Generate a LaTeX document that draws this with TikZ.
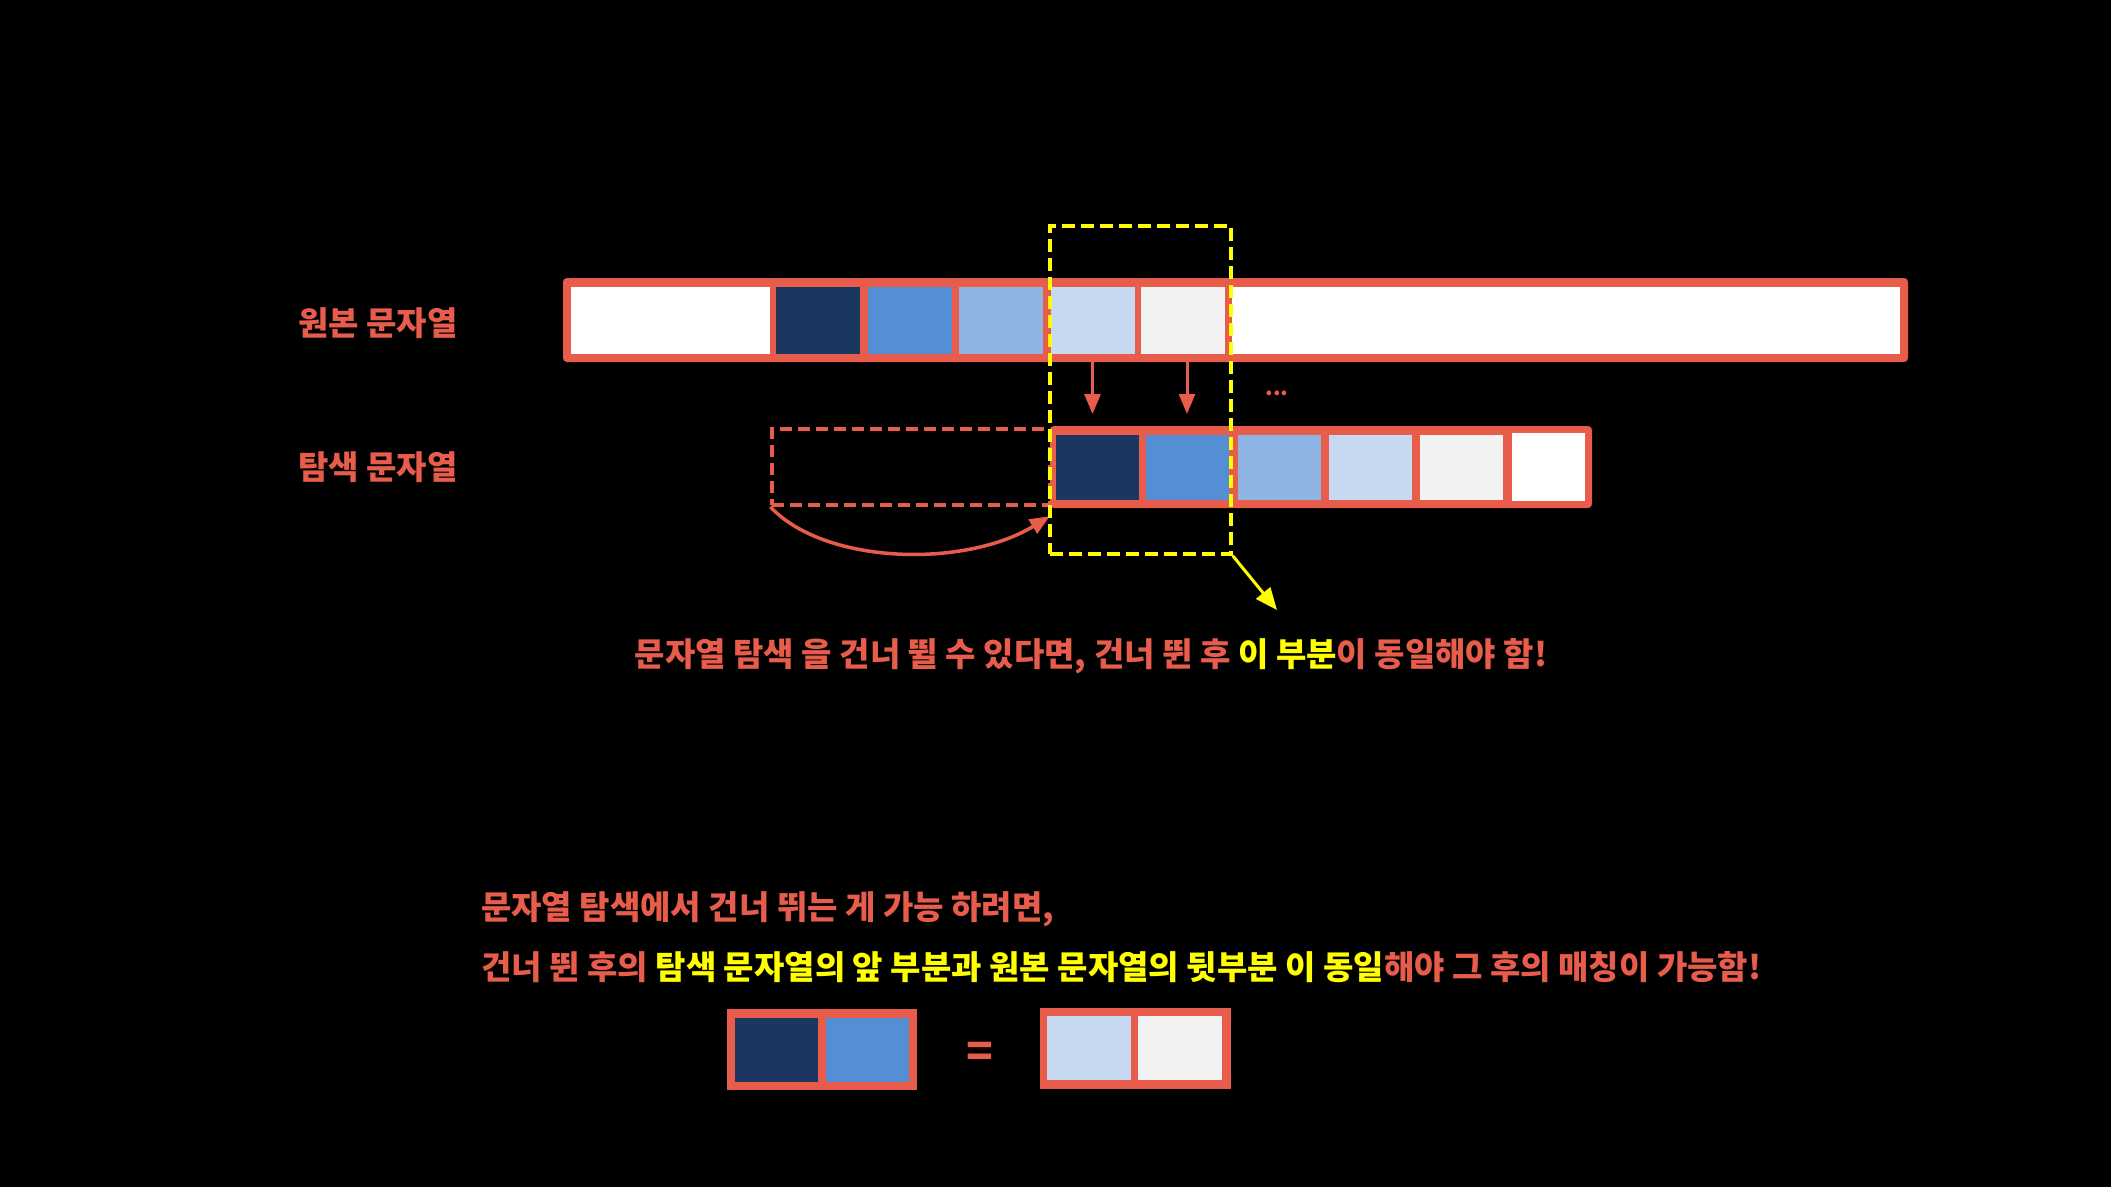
\documentclass[tikz,border=0pt]{standalone}
\usepackage{fontspec}
\setmainfont{Noto Sans CJK KR}
\usetikzlibrary{arrows.meta}
\definecolor{org}{HTML}{E75C4A}
\definecolor{navy}{HTML}{1B375F}
\definecolor{blu}{HTML}{558ED5}
\definecolor{lblu}{HTML}{8EB4E3}
\definecolor{vlblu}{HTML}{C6D9F1}
\definecolor{gry}{HTML}{F2F2F2}
\definecolor{ylw}{HTML}{FFFF00}
\begin{document}
\begin{tikzpicture}[x=1pt,y=-1pt,
  bar/.style={rectangle, fill=org, rounded corners=4pt, inner sep=0pt},
  cell/.style={rectangle, inner sep=0pt, minimum height=67pt, minimum width=84pt},
  scell/.style={rectangle, inner sep=0pt, minimum height=65pt, minimum width=83pt},
  bcell/.style={rectangle, inner sep=0pt, minimum height=64pt, minimum width=83pt},
  lbl/.style={text=org, font=\fontsize{33}{39}\selectfont\bfseries, inner sep=0pt},
  redarr/.style={draw=org, line width=3pt, -{Triangle[length=20pt,width=16pt]}},
  ghost/.style={draw=org, line width=3.5pt, dash pattern=on 12pt off 6pt, rectangle, inner sep=0pt},
  yelbox/.style={draw=ylw, line width=3.5pt, dash pattern=on 13pt off 6pt, rectangle, inner sep=0pt},
  yarr/.style={draw=ylw, line width=3pt, -{Triangle[length=22pt,width=18pt]}},
  curvarr/.style={draw=org, line width=3.5pt, -{Triangle[length=20pt,width=16pt]}}
]
\useasboundingbox (0,0) rectangle (2111,1187);
\fill[black] (0,0) rectangle (2111,1187);

% labels
\node[lbl, anchor=west] (lblA) at (298,323) {원본 문자열};
\node[lbl, anchor=west] (lblB) at (298,467) {탐색 문자열};

% top bar (original string)
\node[bar, minimum width=1345pt, minimum height=84pt] (topbar) at (1235.5,320) {};
\node[cell, fill=white, minimum width=199pt] (tw1) at (670.5,320.5) {};
\node[cell, fill=navy] (t1) at (818,320.5) {};
\node[cell, fill=blu] (t2) at (909.5,320.5) {};
\node[cell, fill=lblu] (t3) at (1001,320.5) {};
\node[cell, fill=vlblu] (t4) at (1092.5,320.5) {};
\node[cell, fill=gry] (t5) at (1183,320.5) {};
\node[cell, fill=white, minimum width=668pt] (tw2) at (1566,320.5) {};

% search bar
\node[bar, minimum width=542pt, minimum height=82pt] (sbar) at (1321,467) {};
\node[scell, fill=navy] (s1) at (1097,467.5) {};
\node[scell, fill=blu] (s2) at (1187.5,467.5) {};
\node[scell, fill=lblu] (s3) at (1279,467.5) {};
\node[scell, fill=vlblu] (s4) at (1370.5,467.5) {};
\node[scell, fill=gry] (s5) at (1461.5,467.5) {};
\node[scell, fill=white, minimum width=73pt, minimum height=68pt] (s6) at (1548.5,467) {};

% ghost (skipped part)
\node[ghost, minimum width=278pt, minimum height=76pt] (ghost) at (911,467) {};
\draw[curvarr] (ghost.south west) .. controls (825,565) and (965,568) .. ([yshift=-8pt]sbar.south west);

% red arrows
\coordinate (arrlvl) at (0,414);
\draw[redarr] (t4.south |- topbar.south) -- (t4.south |- arrlvl);
\draw[redarr] ([xshift=4pt]t5.south |- topbar.south) -- ([xshift=4pt]t5.south |- arrlvl);
\node[text=org, font=\fontsize{22}{26}\selectfont\bfseries, inner sep=0pt] (dots) at (1277,393) {...};

% yellow box
\node[yelbox, minimum width=181pt, minimum height=328pt] (yel) at (1140.5,390) {};
\coordinate (ytip) at (1277,610);
\draw[yarr] (yel.south east) -- (ytip);

% middle text
\node[lbl] (mid) at (1091,656) {문자열 탐색 을 건너 뛸 수 있다면, 건너 뛴 후 \textcolor{ylw}{이 부분}이 동일해야 함!};

% bottom text
\node[lbl, anchor=west] (line1) at (481,909) {문자열 탐색에서 건너 뛰는 게 가능 하려면,};
\node[lbl, anchor=west] (line2) at (481,967) {건너 뛴 후의 \textcolor{ylw}{탐색 문자열의 앞 부분과 원본 문자열의 뒷부분 이 동일}해야 그 후의 매칭이 가능함!};

% bottom boxes
\node[bar, rounded corners=0pt, minimum width=190pt, minimum height=81pt] (lbox) at (822,1049.5) {};
\node[bcell, fill=navy] (b1) at (776.5,1050) {};
\node[bcell, fill=blu] (b2) at (867,1050) {};
\node[text=org, font=\fontsize{44}{50}\selectfont\bfseries, inner sep=0pt] (eq) at (980,1055) {=};
\node[bar, rounded corners=0pt, minimum width=191pt, minimum height=81pt] (rbox) at (1135.5,1048.5) {};
\node[bcell, fill=vlblu, minimum width=84pt] (b3) at (1089,1048) {};
\node[bcell, fill=gry, minimum width=84pt] (b4) at (1180,1048) {};
\end{tikzpicture}
\end{document}
